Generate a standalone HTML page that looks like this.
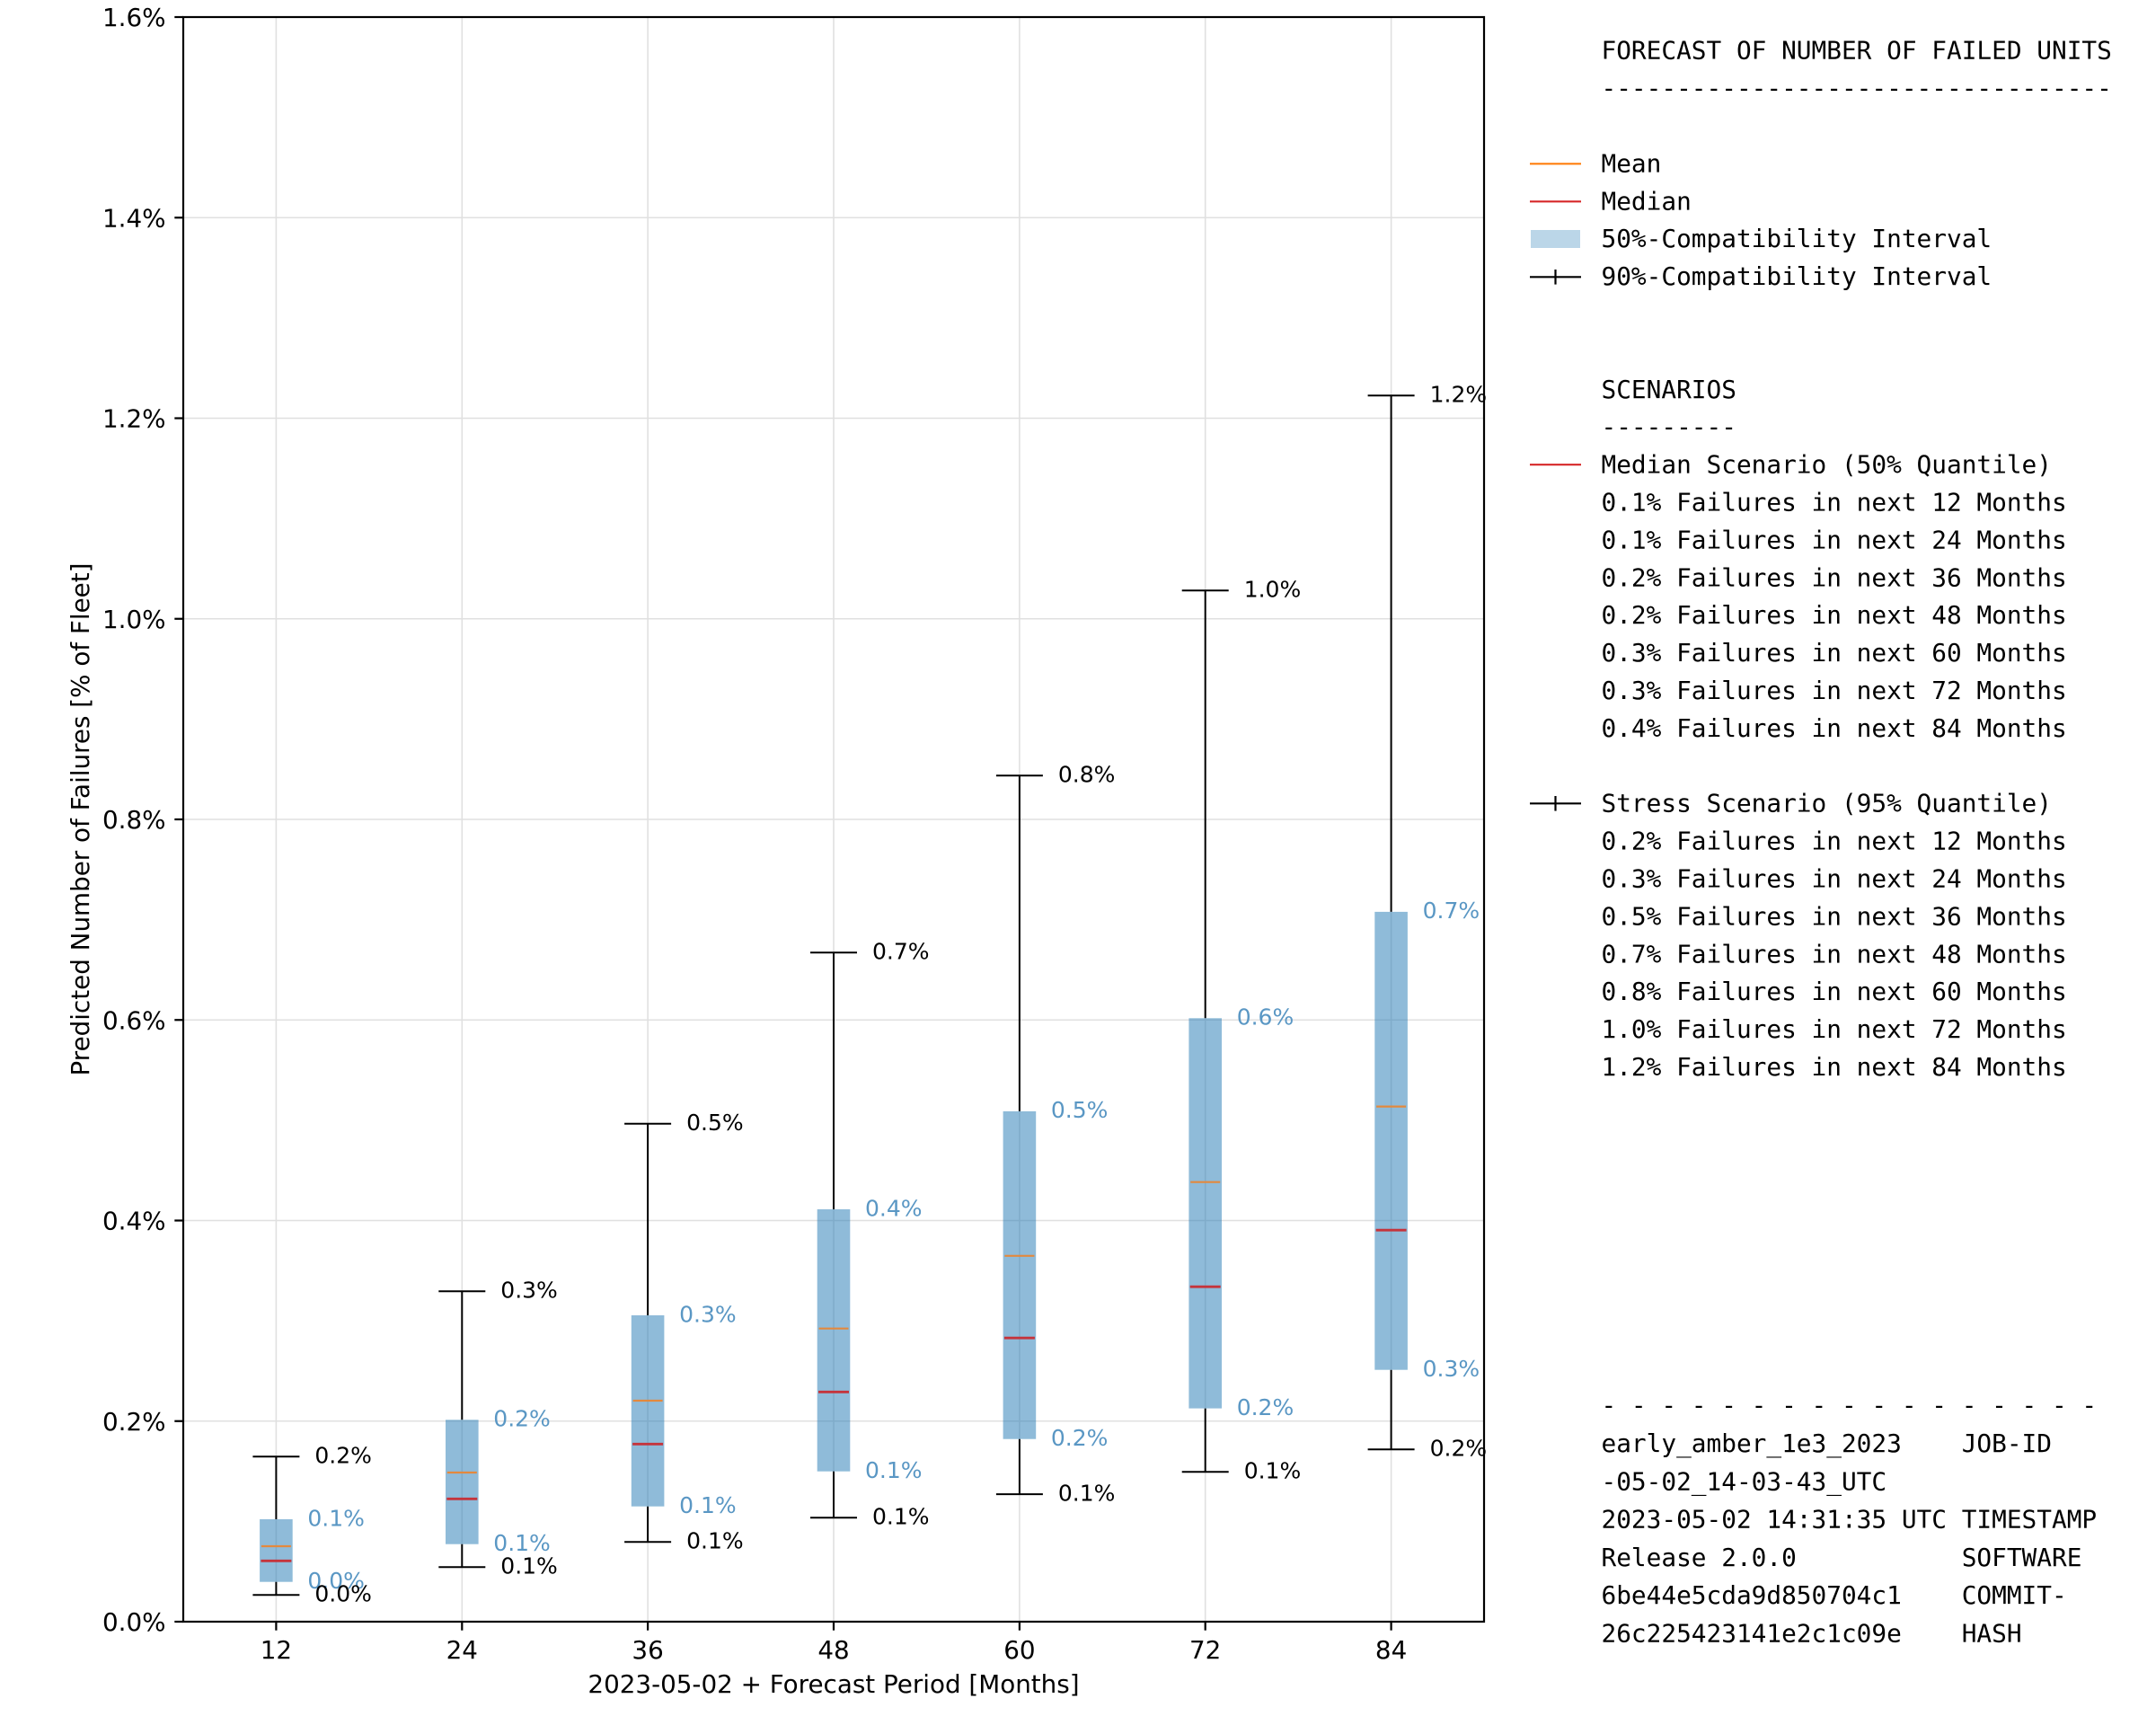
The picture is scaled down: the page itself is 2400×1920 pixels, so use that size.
<!DOCTYPE html>
<html><head><meta charset="utf-8"><style>
html,body{margin:0;padding:0;background:#fff;}
svg{display:block;}
.tk{font-family:"DejaVu Sans","Liberation Sans",sans-serif;font-size:27.78px;fill:#000;}
.an{font-family:"DejaVu Sans","Liberation Sans",sans-serif;font-size:25px;}
.mono{font-family:"DejaVu Sans Mono","Liberation Mono",monospace;font-size:27.78px;fill:#000;white-space:pre;}
</style></head><body>
<svg width="2400" height="1920" viewBox="0 0 2400 1920" xmlns="http://www.w3.org/2000/svg">
<rect width="2400" height="1920" fill="#fff"/>
<!-- gridlines -->
<g stroke="#e0e0e0" stroke-width="1.6">
<line x1="204" y1="1581.75" x2="1652" y2="1581.75"/>
<line x1="204" y1="1358.5" x2="1652" y2="1358.5"/>
<line x1="204" y1="1135.25" x2="1652" y2="1135.25"/>
<line x1="204" y1="912" x2="1652" y2="912"/>
<line x1="204" y1="688.75" x2="1652" y2="688.75"/>
<line x1="204" y1="465.5" x2="1652" y2="465.5"/>
<line x1="204" y1="242.25" x2="1652" y2="242.25"/>
<line x1="307.4" y1="19" x2="307.4" y2="1805"/>
<line x1="514.3" y1="19" x2="514.3" y2="1805"/>
<line x1="721.1" y1="19" x2="721.1" y2="1805"/>
<line x1="928" y1="19" x2="928" y2="1805"/>
<line x1="1134.9" y1="19" x2="1134.9" y2="1805"/>
<line x1="1341.7" y1="19" x2="1341.7" y2="1805"/>
<line x1="1548.6" y1="19" x2="1548.6" y2="1805"/>
</g>
<!-- whiskers and caps -->
<g stroke="#000" stroke-width="2">
<line x1="307.4" y1="1621.3" x2="307.4" y2="1691"/><line x1="307.4" y1="1760.7" x2="307.4" y2="1775.3"/>
<line x1="281.4" y1="1621.3" x2="333.4" y2="1621.3"/><line x1="281.4" y1="1775.3" x2="333.4" y2="1775.3"/>
<line x1="514.3" y1="1437.3" x2="514.3" y2="1580.3"/><line x1="514.3" y1="1718.7" x2="514.3" y2="1744.3"/>
<line x1="488.3" y1="1437.3" x2="540.3" y2="1437.3"/><line x1="488.3" y1="1744.3" x2="540.3" y2="1744.3"/>
<line x1="721.1" y1="1250.7" x2="721.1" y2="1464"/><line x1="721.1" y1="1676.7" x2="721.1" y2="1716.3"/>
<line x1="695.1" y1="1250.7" x2="747.1" y2="1250.7"/><line x1="695.1" y1="1716.3" x2="747.1" y2="1716.3"/>
<line x1="928" y1="1060.3" x2="928" y2="1346"/><line x1="928" y1="1637.7" x2="928" y2="1689.3"/>
<line x1="902" y1="1060.3" x2="954" y2="1060.3"/><line x1="902" y1="1689.3" x2="954" y2="1689.3"/>
<line x1="1134.9" y1="863.3" x2="1134.9" y2="1236.9"/><line x1="1134.9" y1="1601.7" x2="1134.9" y2="1663.1"/>
<line x1="1108.9" y1="863.3" x2="1160.9" y2="863.3"/><line x1="1108.9" y1="1663.1" x2="1160.9" y2="1663.1"/>
<line x1="1341.7" y1="657.3" x2="1341.7" y2="1133.3"/><line x1="1341.7" y1="1567.6" x2="1341.7" y2="1638.3"/>
<line x1="1315.7" y1="657.3" x2="1367.7" y2="657.3"/><line x1="1315.7" y1="1638.3" x2="1367.7" y2="1638.3"/>
<line x1="1548.6" y1="440.3" x2="1548.6" y2="1014.9"/><line x1="1548.6" y1="1524.7" x2="1548.6" y2="1613.3"/>
<line x1="1522.6" y1="440.3" x2="1574.6" y2="440.3"/><line x1="1522.6" y1="1613.3" x2="1574.6" y2="1613.3"/>
</g>
<!-- boxes -->
<g fill="rgb(31,119,180)" fill-opacity="0.5">
<rect x="289.1" y="1691" width="36.6" height="69.7"/>
<rect x="496" y="1580.3" width="36.6" height="138.4"/>
<rect x="702.8" y="1464" width="36.6" height="212.7"/>
<rect x="909.7" y="1346" width="36.6" height="291.7"/>
<rect x="1116.6" y="1236.9" width="36.6" height="364.8"/>
<rect x="1323.4" y="1133.3" width="36.6" height="434.3"/>
<rect x="1530.3" y="1014.9" width="36.6" height="509.8"/>
</g>
<!-- mean lines -->
<g stroke="#e3893e" stroke-width="2.2">
<line x1="290.9" y1="1721" x2="323.9" y2="1721"/>
<line x1="497.8" y1="1639" x2="530.8" y2="1639"/>
<line x1="704.6" y1="1559" x2="737.6" y2="1559"/>
<line x1="911.5" y1="1478.7" x2="944.5" y2="1478.7"/>
<line x1="1118.4" y1="1397.8" x2="1151.4" y2="1397.8"/>
<line x1="1325.2" y1="1315.7" x2="1358.2" y2="1315.7"/>
<line x1="1532.1" y1="1231.6" x2="1565.1" y2="1231.6"/>
</g>
<!-- median lines -->
<g stroke="#c5343c" stroke-width="2.8">
<line x1="290.4" y1="1737.3" x2="324.4" y2="1737.3"/>
<line x1="497.3" y1="1668.3" x2="531.3" y2="1668.3"/>
<line x1="704.1" y1="1607.3" x2="738.1" y2="1607.3"/>
<line x1="911" y1="1549.3" x2="945" y2="1549.3"/>
<line x1="1117.9" y1="1489.2" x2="1151.9" y2="1489.2"/>
<line x1="1324.7" y1="1432.2" x2="1358.7" y2="1432.2"/>
<line x1="1531.6" y1="1369.2" x2="1565.6" y2="1369.2"/>
</g>
<!-- annotations -->
<g class="an" fill="#5a97c4">
<text x="342.4" y="1698.3">0.1%</text><text x="342.4" y="1768">0.0%</text>
<text x="549.3" y="1587.6">0.2%</text><text x="549.3" y="1726">0.1%</text>
<text x="756.1" y="1471.3">0.3%</text><text x="756.1" y="1684">0.1%</text>
<text x="963" y="1353.3">0.4%</text><text x="963" y="1645">0.1%</text>
<text x="1169.9" y="1244.2">0.5%</text><text x="1169.9" y="1609">0.2%</text>
<text x="1376.7" y="1140.6">0.6%</text><text x="1376.7" y="1574.9">0.2%</text>
<text x="1583.6" y="1022.2">0.7%</text><text x="1583.6" y="1532">0.3%</text>
</g>
<g class="an" fill="#000">
<text x="350.4" y="1628.6">0.2%</text><text x="350.4" y="1782.6">0.0%</text>
<text x="557.3" y="1444.6">0.3%</text><text x="557.3" y="1751.6">0.1%</text>
<text x="764.1" y="1258">0.5%</text><text x="764.1" y="1723.6">0.1%</text>
<text x="971" y="1067.6">0.7%</text><text x="971" y="1696.6">0.1%</text>
<text x="1177.9" y="870.6">0.8%</text><text x="1177.9" y="1670.4">0.1%</text>
<text x="1384.7" y="664.6">1.0%</text><text x="1384.7" y="1645.6">0.1%</text>
<text x="1591.6" y="447.6">1.2%</text><text x="1591.6" y="1620.6">0.2%</text>
</g>
<!-- spines -->
<rect x="204" y="19" width="1448" height="1786" fill="none" stroke="#000" stroke-width="2.2"/>
<!-- ticks -->
<g stroke="#000" stroke-width="2.2">
<line x1="194.3" y1="1805" x2="204" y2="1805"/>
<line x1="194.3" y1="1581.75" x2="204" y2="1581.75"/>
<line x1="194.3" y1="1358.5" x2="204" y2="1358.5"/>
<line x1="194.3" y1="1135.25" x2="204" y2="1135.25"/>
<line x1="194.3" y1="912" x2="204" y2="912"/>
<line x1="194.3" y1="688.75" x2="204" y2="688.75"/>
<line x1="194.3" y1="465.5" x2="204" y2="465.5"/>
<line x1="194.3" y1="242.25" x2="204" y2="242.25"/>
<line x1="194.3" y1="19" x2="204" y2="19"/>
<line x1="307.4" y1="1805" x2="307.4" y2="1814.7"/>
<line x1="514.3" y1="1805" x2="514.3" y2="1814.7"/>
<line x1="721.1" y1="1805" x2="721.1" y2="1814.7"/>
<line x1="928" y1="1805" x2="928" y2="1814.7"/>
<line x1="1134.9" y1="1805" x2="1134.9" y2="1814.7"/>
<line x1="1341.7" y1="1805" x2="1341.7" y2="1814.7"/>
<line x1="1548.6" y1="1805" x2="1548.6" y2="1814.7"/>
</g>
<g class="tk" text-anchor="end">
<text x="184.5" y="1815">0.0%</text>
<text x="184.5" y="1591.75">0.2%</text>
<text x="184.5" y="1368.5">0.4%</text>
<text x="184.5" y="1145.25">0.6%</text>
<text x="184.5" y="922">0.8%</text>
<text x="184.5" y="698.75">1.0%</text>
<text x="184.5" y="475.5">1.2%</text>
<text x="184.5" y="252.25">1.4%</text>
<text x="184.5" y="29">1.6%</text>
</g>
<g class="tk" text-anchor="middle">
<text x="307.4" y="1846">12</text>
<text x="514.3" y="1846">24</text>
<text x="721.1" y="1846">36</text>
<text x="928" y="1846">48</text>
<text x="1134.9" y="1846">60</text>
<text x="1341.7" y="1846">72</text>
<text x="1548.6" y="1846">84</text>
<text x="928" y="1884">2023-05-02 + Forecast Period [Months]</text>
<text transform="translate(99,912) rotate(-90)">Predicted Number of Failures [% of Fleet]</text>
</g>
<!-- legend symbols -->
<line x1="1703" y1="182.3" x2="1760" y2="182.3" stroke="#ff7f0e" stroke-width="2.2"/>
<line x1="1703" y1="224.3" x2="1760" y2="224.3" stroke="#d62728" stroke-width="2.2"/>
<rect x="1704" y="256" width="55" height="20" fill="rgb(31,119,180)" fill-opacity="0.3"/>
<line x1="1703" y1="308.3" x2="1760" y2="308.3" stroke="#000" stroke-width="2.2"/>
<line x1="1731.5" y1="300" x2="1731.5" y2="316.6" stroke="#000" stroke-width="2.2"/>
<line x1="1703" y1="517.2" x2="1760" y2="517.2" stroke="#d62728" stroke-width="2.2"/>
<line x1="1703" y1="894.3" x2="1760" y2="894.3" stroke="#000" stroke-width="2.2"/>
<line x1="1731.5" y1="886" x2="1731.5" y2="902.6" stroke="#000" stroke-width="2.2"/>
<!-- legend text -->
<g class="mono" xml:space="preserve">
<text x="1782.5" y="65.7">FORECAST OF NUMBER OF FAILED UNITS</text>
<text x="1782.5" y="107.6">----------------------------------</text>
<text x="1782.5" y="191.4">Mean</text>
<text x="1782.5" y="233.3">Median</text>
<text x="1782.5" y="275.2">50%-Compatibility Interval</text>
<text x="1782.5" y="317.1">90%-Compatibility Interval</text>
<text x="1782.5" y="442.8">SCENARIOS</text>
<text x="1782.5" y="484.7">---------</text>
<text x="1782.5" y="526.6">Median Scenario (50% Quantile)</text>
<text x="1782.5" y="568.5">0.1% Failures in next 12 Months</text>
<text x="1782.5" y="610.4">0.1% Failures in next 24 Months</text>
<text x="1782.5" y="652.3">0.2% Failures in next 36 Months</text>
<text x="1782.5" y="694.2">0.2% Failures in next 48 Months</text>
<text x="1782.5" y="736.1">0.3% Failures in next 60 Months</text>
<text x="1782.5" y="778">0.3% Failures in next 72 Months</text>
<text x="1782.5" y="819.9">0.4% Failures in next 84 Months</text>
<text x="1782.5" y="903.7">Stress Scenario (95% Quantile)</text>
<text x="1782.5" y="945.6">0.2% Failures in next 12 Months</text>
<text x="1782.5" y="987.5">0.3% Failures in next 24 Months</text>
<text x="1782.5" y="1029.4">0.5% Failures in next 36 Months</text>
<text x="1782.5" y="1071.3">0.7% Failures in next 48 Months</text>
<text x="1782.5" y="1113.2">0.8% Failures in next 60 Months</text>
<text x="1782.5" y="1155.1">1.0% Failures in next 72 Months</text>
<text x="1782.5" y="1197">1.2% Failures in next 84 Months</text>
<text x="1782.5" y="1573.7">- - - - - - - - - - - - - - - - -</text>
<text x="1782.5" y="1616">early_amber_1e3_2023&#160;&#160;&#160;&#160;JOB-ID</text>
<text x="1782.5" y="1658.3">-05-02_14-03-43_UTC</text>
<text x="1782.5" y="1700.5">2023-05-02 14:31:35 UTC TIMESTAMP</text>
<text x="1782.5" y="1742.8">Release 2.0.0&#160;&#160;&#160;&#160;&#160;&#160;&#160;&#160;&#160;&#160;&#160;SOFTWARE</text>
<text x="1782.5" y="1785">6be44e5cda9d850704c1&#160;&#160;&#160;&#160;COMMIT-</text>
<text x="1782.5" y="1827.3">26c225423141e2c1c09e&#160;&#160;&#160;&#160;HASH</text>
</g>
</svg>
</body></html>
